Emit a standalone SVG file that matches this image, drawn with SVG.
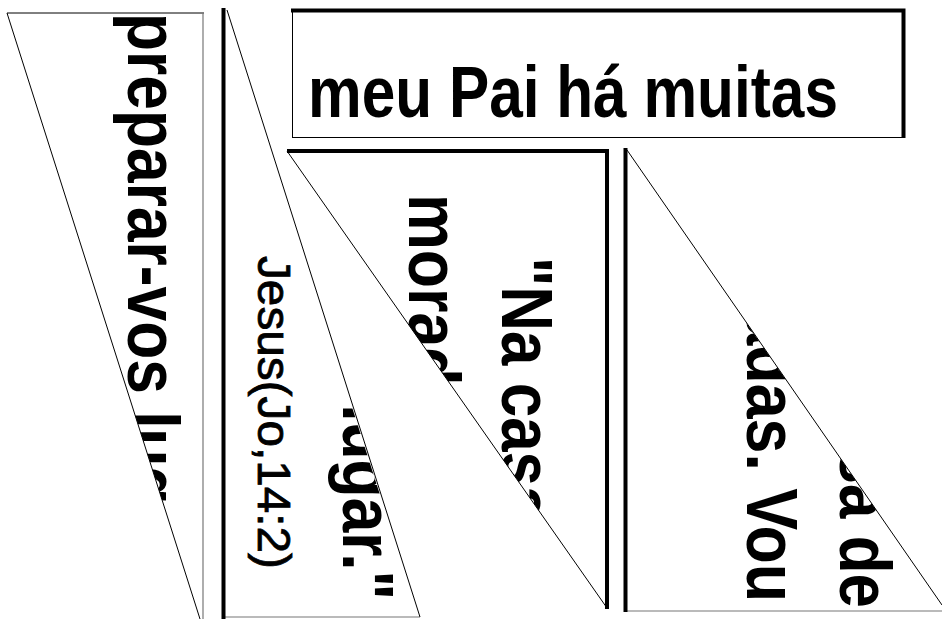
<svg xmlns="http://www.w3.org/2000/svg" width="942" height="619" viewBox="0 0 942 619">
<defs>
<style>
.big{font-family:"Liberation Sans",Arial,sans-serif;font-weight:bold;font-size:72px;fill:#000}
.ref{font-family:"Liberation Sans",Arial,sans-serif;font-weight:normal;font-size:46px;fill:#000;stroke:#000;stroke-width:0.8}
.thin{stroke:#000;stroke-width:1;fill:none}
.gray{stroke:#777;stroke-width:1.2;fill:none}
.thick{stroke:#000;stroke-width:4;fill:none}
</style>
<clipPath id="c1"><polygon points="7,13 203,13 203,619 200,619"/></clipPath>
<clipPath id="c2"><polygon points="225,9 419,617 225,617"/></clipPath>
<clipPath id="c3"><polygon points="287,151 607,151 607,608"/></clipPath>
<clipPath id="c4"><polygon points="626,149 942,605 942,611 626,611"/></clipPath>
</defs>
<rect width="942" height="619" fill="#fff"/>
<g id="piece1">
<g clip-path="url(#c1)">
<text class="big" transform="translate(128,13) rotate(90)" textLength="594" lengthAdjust="spacingAndGlyphs">preparar-vos lugar."</text>
</g>
<line class="thin" x1="7" y1="13" x2="204" y2="13"/>
<line class="gray" x1="203" y1="13" x2="203" y2="619"/>
<line class="thin" x1="7" y1="13" x2="200" y2="619"/>
</g>
<g id="piece2">
<g clip-path="url(#c2)">
<text class="big" transform="translate(343,6) rotate(90)" textLength="594" lengthAdjust="spacingAndGlyphs">preparar-vos lugar."</text>
<text class="ref" transform="translate(258,256) rotate(90)" textLength="313" lengthAdjust="spacingAndGlyphs">Jesus(Jo,14:2)</text>
</g>
<line class="gray" x1="223" y1="617" x2="420" y2="617"/>
<line class="thin" x1="227" y1="10" x2="420" y2="617"/>
<line class="thick" x1="223.5" y1="8" x2="223.5" y2="619"/>
</g>
<g id="piece3">
<g clip-path="url(#c3)">
<text class="big" transform="translate(502,257) rotate(90)" textLength="353" lengthAdjust="spacingAndGlyphs">"Na casa de</text>
<text class="big" transform="translate(409,194) rotate(90)" textLength="410" lengthAdjust="spacingAndGlyphs">moradas. Vou</text>
</g>
<line class="thin" x1="287" y1="151" x2="607" y2="608"/>
<polyline class="thick" points="287,151 607,151 607,609"/>
</g>
<g id="piece4">
<g clip-path="url(#c4)">
<text class="big" transform="translate(840,255) rotate(90)" textLength="353" lengthAdjust="spacingAndGlyphs">"Na casa de</text>
<text class="big" transform="translate(747,192) rotate(90)" textLength="410" lengthAdjust="spacingAndGlyphs">moradas. Vou</text>
</g>
<line class="gray" x1="625" y1="611" x2="942" y2="611"/>
<line class="thin" x1="627" y1="150" x2="942" y2="605"/>
<line class="thick" x1="625.5" y1="148" x2="625.5" y2="612"/>
</g>
<g id="piece5">
<line class="thin" x1="292.5" y1="10" x2="292.5" y2="137.5"/>
<line class="thin" x1="292" y1="137.5" x2="905" y2="137.5"/>
<polyline class="thick" points="291,10.5 903.5,10.5 903.5,138"/>
<text class="big" x="308" y="117" font-size="70" textLength="530" lengthAdjust="spacingAndGlyphs">meu Pai há muitas</text>
</g>
</svg>
